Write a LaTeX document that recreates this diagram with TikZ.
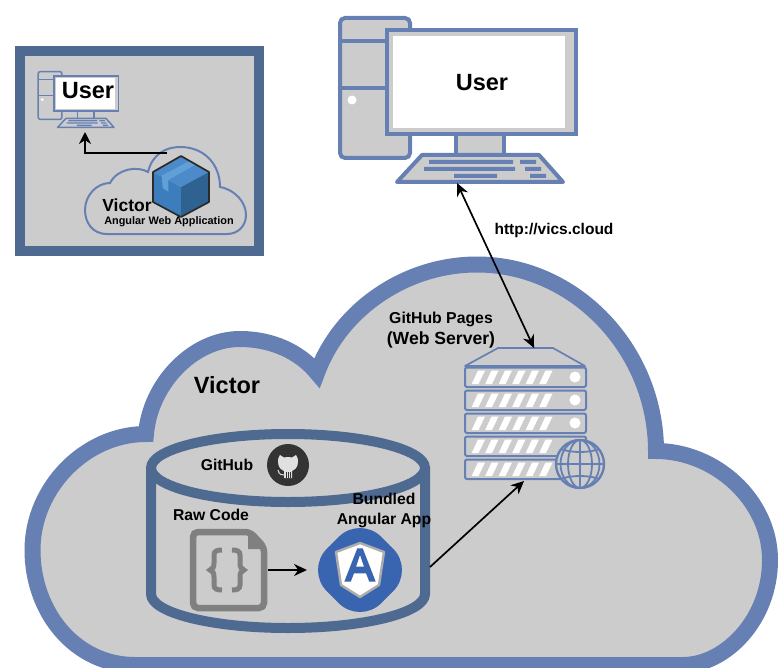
\documentclass[tikz,border=0pt]{standalone}
\usepackage{fontspec}
\setmainfont{Liberation Sans}
\usetikzlibrary{arrows.meta}

\definecolor{cloudblue}{HTML}{6780B3}
\definecolor{frameblue}{HTML}{4F6A91}
\definecolor{panelgrey}{HTML}{CCCCCC}
\definecolor{docgrey}{HTML}{808080}
\definecolor{angularblue}{HTML}{3965B0}
\definecolor{boxtop}{HTML}{4C8AC9}
\definecolor{boxleft}{HTML}{3B7DBD}
\definecolor{boxright}{HTML}{2F6191}
\definecolor{boxtape}{HTML}{60A0D7}
\definecolor{boxedge}{HTML}{2B2B2B}
\definecolor{octocat}{HTML}{333333}

\tikzset{
  label14/.style={inner sep=0pt, align=center, font=\bfseries\fontsize{15.7}{20}\selectfont},
  title/.style={inner sep=0pt, font=\bfseries\fontsize{23.5}{26}\selectfont},
  flow/.style={draw=black, line width=1.7pt, -{Stealth[length=13pt, width=12pt]}},
  pics/desktop/.style 2 args={code={
    % tower, then screen, stand and keyboard
    \draw[draw=cloudblue, fill=panelgrey, line width=#1, rounded corners=#2] (2,2) rectangle (72,142);
    \draw[cloudblue, line width=#1] (2,25) -- (50,25) (2,72) -- (50,72);
    \fill[white] (14,84) circle[radius=4.5];
    \draw[draw=cloudblue, fill=panelgrey, line width=#1] (118,118) rectangle (166,139);
    \draw[draw=cloudblue, fill=panelgrey, line width=#1] (49,14) rectangle (238,118);
    \fill[white] (55,20) rectangle (227,112);
    \draw[draw=cloudblue, fill=panelgrey, line width=#1, line join=round] (84,139) -- (201,139) -- (225,166) -- (59,166) -- cycle;
    \fill[cloudblue] (91,144) rectangle (175,148) (182,144) rectangle (198,148)
      (86,151) rectangle (177,155) (187,151) rectangle (203,155)
      (116,158) rectangle (159,162) (192,158) rectangle (208,162);
  }},
}

\begin{document}
\begin{tikzpicture}[x=1pt, y=-1pt]
  \clip (0,0) rectangle (778,668);

  % small picture, top left
  \draw[draw=frameblue, fill=panelgrey, line width=10pt] (20,51) rectangle (259,251);
  \pic[scale=.34] at (37.5,71) {desktop={1.5pt}{2pt}};
  \draw[draw=cloudblue, fill=panelgrey, line width=2pt]
    (107,234) .. controls (92,234) and (85,222) .. (85,210)
    .. controls (85,195) and (97,183) .. (110,183)
    .. controls (118,168) and (138,166) .. (148,172)
    .. controls (152,155) and (165,147) .. (180,147)
    .. controls (205,147) and (220,165) .. (220,187)
    .. controls (236,190) and (246,203) .. (246,215)
    .. controls (246,226) and (238,234) .. (227,234) -- cycle;
  % package
  \fill[boxtop] (181,156) -- (209,172) -- (181,187) -- (153,172) -- cycle;
  \fill[boxleft] (153,172) -- (181,187) -- (181,217) -- (153,202) -- cycle;
  \fill[boxright] (209,172) -- (181,187) -- (181,217) -- (209,202) -- cycle;
  \fill[boxtape] (161.7,175.7) -- (190,160.7) -- (196.7,164) -- (168.3,180) -- (168.3,191.7) -- (162.7,188) -- cycle;
  \draw[boxedge, line width=1.7pt, line join=round]
    (181,156) -- (209,172) -- (209,202) -- (181,217) -- (153,202) -- (153,172) -- cycle;
  \coordinate (packageLeft) at (167,153);
  \coordinate (smallKeyboard) at (85,132);
  \draw[black, line width=2.4pt, -{Stealth[length=12pt, width=12pt]}] (packageLeft) -| (smallKeyboard);

  \node[title] (smallUser) at (88,91) {User};
  \node[inner sep=0pt, font=\bfseries\fontsize{17.5}{20}\selectfont] (smallVictor) at (127,205) {Victor};
  \node[inner sep=0pt, font=\bfseries\fontsize{10.9}{13}\selectfont] (smallApp) at (169,222) {Angular Web Application};

  % big computer
  \pic at (338,16) {desktop={4pt}{5pt}};
  \node[title] (bigUser) at (482,83) {User};

  % big cloud
  \draw[draw=cloudblue, fill=panelgrey, line width=16pt, miter limit=10]
    (135,665) .. controls (75,665) and (32.5,612) .. (32.5,550)
    .. controls (32.5,488) and (85,434) .. (146,434)
    .. controls (150,385) and (192,339) .. (240,339)
    .. controls (272,339) and (300,352) .. (317,373)
    .. controls (340,310) and (405,264.5) .. (477,264.5)
    .. controls (575,264.5) and (656,350) .. (656,451)
    .. controls (715,451) and (770,500) .. (770,560)
    .. controls (770,620) and (725,665) .. (683,665) -- cycle;
  \node[title] (victor) at (227,385) {Victor};

  % repository
  \draw[frameblue, line width=10pt] (288,468) ellipse[x radius=137, y radius=34];
  \draw[frameblue, line width=10pt] (151,468) -- (151,594)
    .. controls (151,612.8) and (212,628) .. (288,628)
    .. controls (364,628) and (425,612.8) .. (425,594) -- (425,468);
  \node[label14] (github) at (227,465) {GitHub};
  \fill[octocat] (288,465) circle[radius=21];
  \fill[panelgrey!60!white] (280,455) -- (284,457.5) .. controls (286,457) and (290,457) .. (292,457.5) -- (296,455)
    .. controls (298,458) and (298,460) .. (298,462) .. controls (298,468) and (294,470) .. (292,471)
    -- (292,478) -- (284,478) -- (284,471) .. controls (282,470) and (278,468) .. (278,462)
    .. controls (278,460) and (278,458) .. (280,455) -- cycle;
  \draw[panelgrey!60!white, line width=1pt] (278,470) .. controls (279,475) and (282,475) .. (284,475);
  \draw[octocat, line width=.6pt] (286,472) -- (286,478) (288,472) -- (288,478) (290,472) -- (290,478);

  % raw code file
  \draw[draw=docgrey, line width=6.5pt, rounded corners=5pt] (193,532) -- (250,532) -- (264,547) -- (264,608) -- (193,608) -- cycle;
  \fill[docgrey] (248,530) -- (267,549) -- (248,549) -- cycle;
  \draw[docgrey, line width=5pt] (222,550) .. controls (217,550) and (214,551) .. (214,555) -- (214,563)
    .. controls (214,567) and (213,569) .. (210,570) .. controls (213,571) and (214,573) .. (214,577) -- (214,585)
    .. controls (214,589) and (217,590) .. (222,590);
  \draw[docgrey, line width=5pt] (232,550) .. controls (237,550) and (240,551) .. (240,555) -- (240,563)
    .. controls (240,567) and (241,569) .. (244,570) .. controls (241,571) and (240,573) .. (240,577) -- (240,585)
    .. controls (240,589) and (237,590) .. (232,590);
  \node[label14] (rawCode) at (211,515) {Raw Code};

  % angular app
  \fill[angularblue, rounded corners=30pt] (360,515.6) -- (414.4,570) -- (360,624.4) -- (305.6,570) -- cycle;
  \draw[draw=panelgrey!85!black, fill=white, line width=2.4pt, line join=round] (360,543) -- (384,552) -- (379,585) -- (360,597) -- (341,585) -- (336,552) -- cycle;
  \fill[angularblue, even odd rule] (357.3,548.3) -- (362.7,548.3) -- (375.7,581.7) -- (369.3,581.7) -- (366,573.3) -- (354,573.3) -- (350.7,581.7) -- (344.3,581.7) -- cycle
    (360,555) -- (364,566.7) -- (356,566.7) -- cycle;
  \node[label14] (bundled) at (384,510) {Bundled\\Angular App};

  % server
  \draw[cloudblue, line width=1.7pt, line join=round] (465,366) -- (498,348) -- (553,348) -- (585,366) -- cycle;
  \foreach \rowy/\dot in {367.5/1, 390.5/1, 413.5/1, 436.5/0, 459.5/0} {
    \draw[cloudblue, line width=2pt, rounded corners=2pt] (465,\rowy) rectangle (586,\rowy+19.5);
    \foreach \n in {0,...,5} {
      \fill[white] (471.7+\n*13.5,\rowy+16.5) -- (478.5+\n*13.5,\rowy+16.5) -- (485+\n*13.5,\rowy+3) -- (478+\n*13.5,\rowy+3) -- cycle;
    }
    \ifnum\dot=1 \fill[white] (575,\rowy+9.5) circle[radius=5.5]; \fi
  }
  \node[inner sep=0pt, font=\bfseries\fontsize{15.8}{21}\selectfont] (pages) at (441,319) {GitHub Pages};
  \node[inner sep=0pt, font=\bfseries\fontsize{17.6}{21}\selectfont] (webServer) at (441,340) {(Web Server)};

  % globe
  \draw[draw=cloudblue, fill=panelgrey, line width=2.4pt] (580,464) circle[radius=24];
  \draw[cloudblue, line width=1.8pt] (580,440) -- (580,488) (556,464) -- (604,464)
    (580,464) ellipse[x radius=12, y radius=24] (580,464) ellipse[x radius=19.5, y radius=24]
    (561,449) .. controls (570,453) and (590,453) .. (599,449)
    (561,479) .. controls (570,475) and (590,475) .. (599,479);

  % connectors
  \coordinate (keyboard) at (457,183);
  \coordinate (serverTop) at (534,348);
  \coordinate (serverBottom) at (524,481);
  \coordinate (repoRight) at (430,567);
  \coordinate (docRight) at (268,570);
  \coordinate (angularLeft) at (307,570);
  \draw[flow, {Stealth[length=13pt, width=12pt]}-{Stealth[length=13pt, width=12pt]}] (keyboard) -- (serverTop);
  \draw[flow] (repoRight) -- (serverBottom);
  \draw[flow] (docRight) -- (angularLeft);
  \node[inner sep=0pt, font=\bfseries\fontsize{15.5}{18}\selectfont] (url) at (554,230) {http://vics.cloud};
\end{tikzpicture}
\end{document}
